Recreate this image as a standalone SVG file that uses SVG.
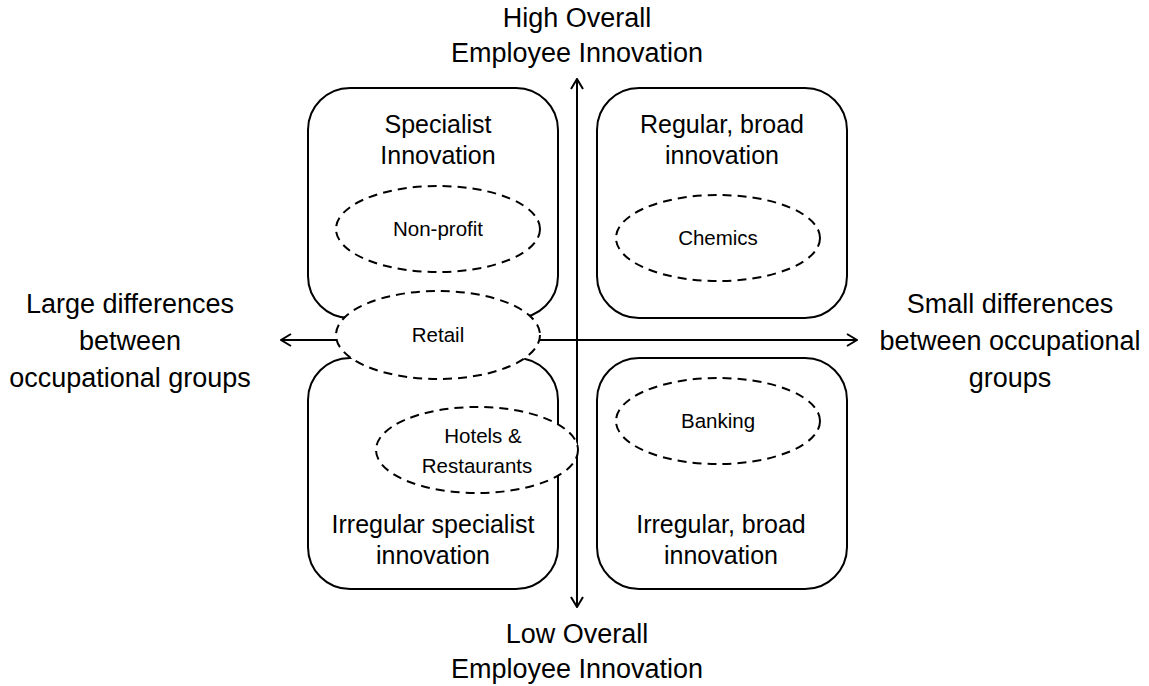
<svg xmlns="http://www.w3.org/2000/svg" width="1149" height="686" viewBox="0 0 1149 686">
<defs>
<marker id="arr" viewBox="0 0 12 14" refX="11" refY="7" markerWidth="12" markerHeight="14" markerUnits="userSpaceOnUse" orient="auto">
<path d="M1,1 L11,7 L1,13" fill="none" stroke="#000" stroke-width="2"/>
</marker>
<style>
.box{fill:#fff;stroke:#000;stroke-width:2}
.ell{fill:#fff;stroke:#000;stroke-width:2;stroke-dasharray:9 6}
.ax{stroke:#000;stroke-width:2;fill:none}
.big{font-family:"Liberation Sans",Arial,sans-serif;font-size:25px;fill:#000;text-anchor:middle}
.axl{font-family:"Liberation Sans",Arial,sans-serif;font-size:27px;fill:#000;text-anchor:middle}
.sm{font-family:"Liberation Sans",Arial,sans-serif;font-size:20.5px;fill:#000;text-anchor:middle}
</style>
</defs>
<rect width="1149" height="686" fill="#fff"/>
<g id="box-specialist"><rect class="box" x="308" y="88" width="250" height="230" rx="42"/>
<text class="big" x="438" y="133">Specialist</text><text class="big" x="438" y="164">Innovation</text></g>
<g id="box-regular"><rect class="box" x="597" y="88" width="250" height="230" rx="42"/>
<text class="big" x="722" y="133">Regular, broad</text><text class="big" x="722" y="164">innovation</text></g>
<g id="box-irregular-specialist"><rect class="box" x="308" y="358" width="250" height="231" rx="42"/>
<text class="big" x="433" y="533">Irregular specialist</text><text class="big" x="433" y="564">innovation</text></g>
<g id="box-irregular-broad"><rect class="box" x="597" y="358" width="250" height="231" rx="42"/>
<text class="big" x="721" y="533">Irregular, broad</text><text class="big" x="721" y="564">innovation</text></g>
<g id="connectors">
<line class="ax" x1="577" y1="340" x2="577" y2="79" marker-end="url(#arr)"/>
<line class="ax" x1="577" y1="340" x2="577" y2="607" marker-end="url(#arr)"/>
<line class="ax" x1="577" y1="340" x2="281" y2="340" marker-end="url(#arr)"/>
<line class="ax" x1="577" y1="340" x2="857" y2="340" marker-end="url(#arr)"/>
</g>
<g id="axis-high"><text class="axl" x="577" y="27">High Overall</text><text class="axl" x="577" y="62">Employee Innovation</text></g>
<g id="axis-low"><text class="axl" x="577" y="643">Low Overall</text><text class="axl" x="577" y="678">Employee Innovation</text></g>
<g id="axis-large"><text class="axl" x="130" y="313">Large differences</text><text class="axl" x="130" y="350">between</text><text class="axl" x="130" y="387">occupational groups</text></g>
<g id="axis-small"><text class="axl" x="1010" y="313">Small differences</text><text class="axl" x="1010" y="350">between occupational</text><text class="axl" x="1010" y="387">groups</text></g>
<g id="ell-nonprofit"><ellipse class="ell" cx="438" cy="229" rx="102" ry="43"/><text class="sm" x="438" y="236">Non-profit</text></g>
<g id="ell-chemics"><ellipse class="ell" cx="718" cy="238" rx="102" ry="43"/><text class="sm" x="718" y="245">Chemics</text></g>
<g id="ell-retail"><ellipse class="ell" cx="438" cy="335" rx="102" ry="44"/><text class="sm" x="438" y="342">Retail</text></g>
<g id="ell-hotels"><ellipse class="ell" cx="477" cy="450" rx="101" ry="43"/><text class="sm" x="483" y="443">Hotels &amp;</text><text class="sm" x="477" y="473">Restaurants</text></g>
<g id="ell-banking"><ellipse class="ell" cx="718" cy="421" rx="102" ry="43"/><text class="sm" x="718" y="428">Banking</text></g>
</svg>
